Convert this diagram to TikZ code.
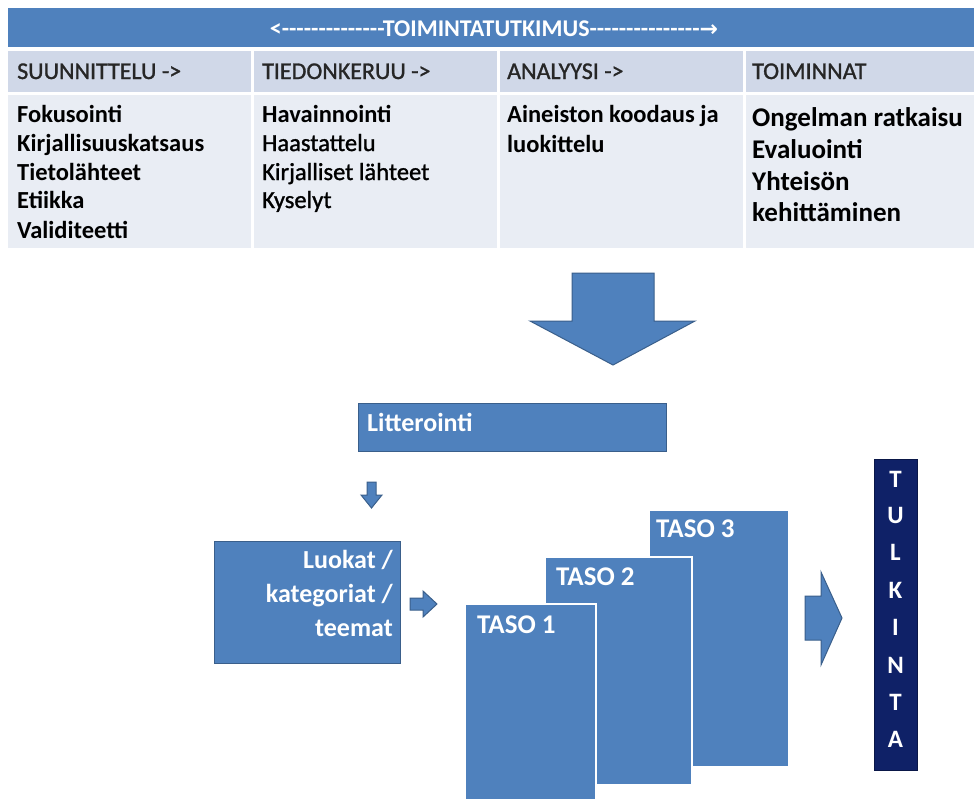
\documentclass[tikz,border=0pt]{standalone}
\usepackage{fontspec}
\setmainfont{Carlito}
\newfontfamily\symfont{DejaVu Sans}
\newfontfamily\medfont{Carlito}[FakeBold=1.2]
\definecolor{hblue}{HTML}{4F81BD}
\definecolor{rowA}{HTML}{D0D8E8}
\definecolor{rowB}{HTML}{E9EDF4}
\definecolor{boxblue}{HTML}{4F81BD}
\definecolor{boxline}{HTML}{3A5F8B}
\definecolor{navy}{HTML}{0F2167}
\tikzset{
  hdrcell/.style={fill=hblue},
  cellA/.style={fill=rowA},
  cellB/.style={fill=rowB},
  blockbox/.style={fill=boxblue, draw=boxline, line width=1pt},
  tasobox/.style={fill=boxblue, draw=white, line width=2.5pt},
  blockarrow/.style={fill=boxblue, draw=boxline, line width=1pt},
  colhead/.style={anchor=base west, inner sep=0pt, font=\medfont\fontsize{24}{28}\selectfont, text=black!85},
  bodyb/.style={anchor=base west, inner sep=0pt, font=\fontsize{24.5}{29}\selectfont\bfseries, text=black},
  bodyr/.style={anchor=base west, inner sep=0pt, font=\medfont\fontsize{24.5}{29}\selectfont, text=black},
  bodybig/.style={anchor=base west, inner sep=0pt, font=\fontsize{27}{32}\selectfont\bfseries, text=black},
  whitelbl/.style={inner sep=0pt, font=\fontsize{26}{32}\selectfont\bfseries, text=white},
  tasolbl/.style={anchor=base west, inner sep=0pt, font=\fontsize{27}{32}\selectfont\bfseries, text=white},
  letter/.style={anchor=base, inner sep=0pt, font=\fontsize{25}{30}\selectfont\bfseries, text=white},
}
\begin{document}
\begin{tikzpicture}[x=1pt,y=-1pt]
\useasboundingbox (0,0) rectangle (974,798);
\fill[white] (0,0) rectangle (974,798);

% ---- table ----
\fill[hdrcell] (8,8) rectangle (974,47);
\node[anchor=base, inner sep=0pt, text=white, font=\fontsize{24}{28}\selectfont\bfseries] (title) at (494,36)
  {<-{}-{}-{}-{}-{}-{}-{}-{}-{}-{}-{}-{}-{}-TOIMINTATUTKIMUS-{}-{}-{}-{}-{}-{}-{}-{}-{}-{}-{}-{}-{}-{}-{\symfont\bfseries\fontsize{22}{26}\selectfont →}};

\fill[cellA] (8,51) rectangle (251,92);
\fill[cellA] (254,51) rectangle (497,92);
\fill[cellA] (500,51) rectangle (743,92);
\fill[cellA] (746,51) rectangle (974,92);
\fill[cellB] (8,95) rectangle (251,248);
\fill[cellB] (254,95) rectangle (497,248);
\fill[cellB] (500,95) rectangle (743,248);
\fill[cellB] (746,95) rectangle (974,248);

\node[colhead] (h1) at (17,79) {SUUNNITTELU ->};
\node[colhead] (h2) at (262,79) {TIEDONKERUU ->};
\node[colhead] (h3) at (507,79) {ANALYYSI ->};
\node[colhead] (h4) at (752,79) {TOIMINNAT};

\node[bodyb] (s1) at (17,122) {Fokusointi};
\node[bodyb] (s2) at (17,151) {Kirjallisuuskatsaus};
\node[bodyb] (s3) at (17,180) {Tietolähteet};
\node[bodyb] (s4) at (17,208) {Etiikka};
\node[bodyb] (s5) at (17,238) {Validiteetti};

\node[bodyb] (t1) at (262,122) {Havainnointi};
\node[bodyr] (t2) at (262,151) {Haastattelu};
\node[bodyr] (t3) at (262,180) {Kirjalliset lähteet};
\node[bodyr] (t4) at (262,208) {Kyselyt};

\node[bodyb] (a1) at (507,122) {Aineiston koodaus ja};
\node[bodyb] (a2) at (507,152) {luokittelu};

\node[bodybig] (o1) at (752,126) {Ongelman ratkaisu};
\node[bodybig] (o2) at (752,158) {Evaluointi};
\node[bodybig] (o3) at (752,190) {Yhteisön};
\node[bodybig] (o4) at (752,221) {kehittäminen};

% ---- big down arrow ----
\filldraw[blockarrow] (572,273) -- (654,273) -- (654,321) -- (695,321) -- (613,365) -- (530,321) -- (572,321) -- cycle;

% ---- Litterointi ----
\filldraw[blockbox] (358,403) rectangle (666,451);
\node[whitelbl, anchor=base west] (litt) at (367,431) {Litterointi};

% small down arrow
\filldraw[blockarrow] (367,482) -- (376,482) -- (376,495) -- (382,495) -- (371.5,508) -- (361,495) -- (367,495) -- cycle;

% ---- Luokat box ----
\filldraw[blockbox] (214,541) rectangle (400,663);
\node[whitelbl, anchor=base east] (l1) at (393,568) {Luokat /};
\node[whitelbl, anchor=base east] (l2) at (393,602) {kategoriat /};
\node[whitelbl, anchor=base east] (l3) at (393,636) {teemat};

% small right arrow
\filldraw[blockarrow] (410,598) -- (423,598) -- (423,591) -- (437,604) -- (423,617) -- (423,610) -- (410,610) -- cycle;

% ---- TASO boxes ----
\filldraw[tasobox] (649,510) rectangle (789,767);
\node[tasolbl] (taso3) at (656,537) {TASO 3};
\filldraw[tasobox] (545,557) rectangle (692,785);
\node[tasolbl] (taso2) at (556,585) {TASO 2};
\filldraw[tasobox] (465,604) rectangle (596,805);
\node[tasolbl] (taso1) at (477,633) {TASO 1};

% right arrow to TULKINTA
\filldraw[blockarrow] (805,596) -- (821,596) -- (821,572) -- (842,618) -- (821,665) -- (821,640) -- (805,640) -- cycle;

% ---- TULKINTA ----
\filldraw[fill=navy, draw=navy!70!black, line width=1pt] (874,459) rectangle (917,770);
\node[letter] (k1) at (895.5,487) {T};
\node[letter] (k2) at (895.5,523) {U};
\node[letter] (k3) at (895.5,560) {L};
\node[letter] (k4) at (895.5,598) {K};
\node[letter] (k5) at (895.5,635) {I};
\node[letter] (k6) at (895.5,673) {N};
\node[letter] (k7) at (895.5,710) {T};
\node[letter] (k8) at (895.5,747) {A};
\end{tikzpicture}
\end{document}
